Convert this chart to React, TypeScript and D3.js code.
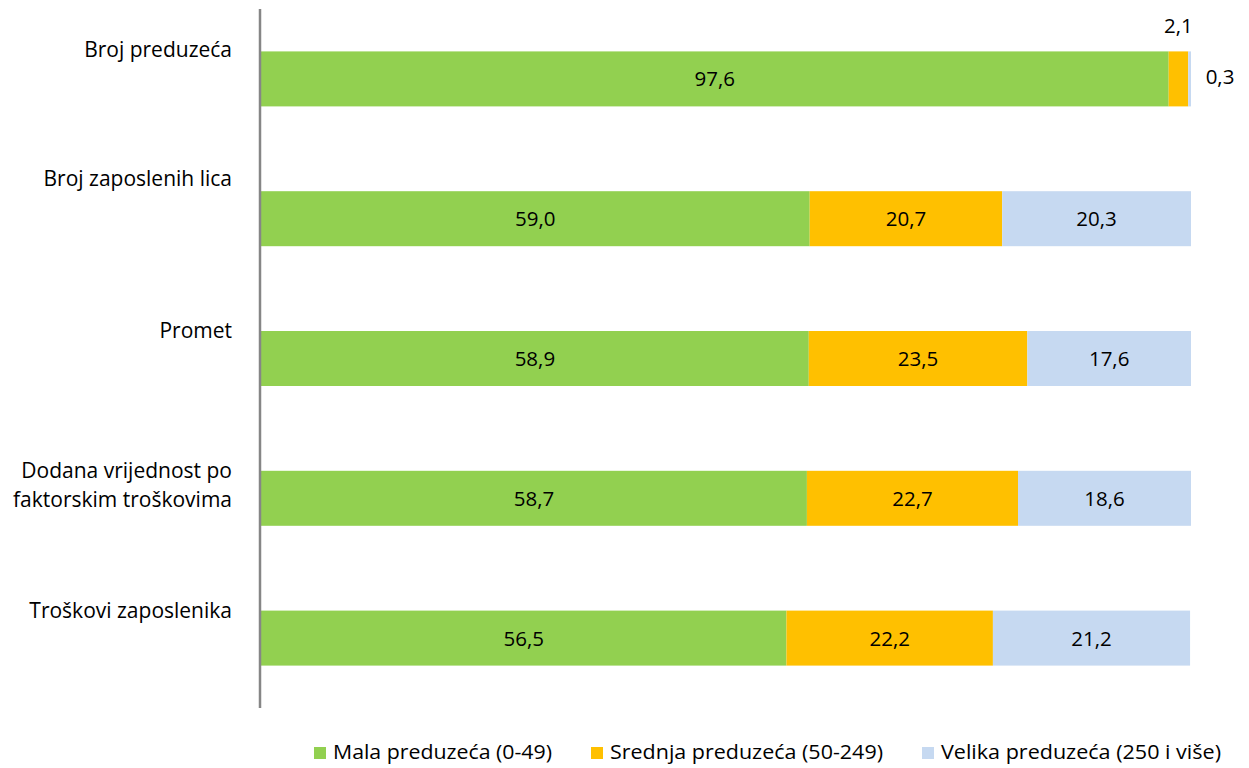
import React from "react";
import * as d3 from "d3";

const categories = [
  "Broj preduzeća",
  "Broj zaposlenih lica",
  "Promet",
  "Dodana vrijednost po faktorskim troškovima",
  "Troškovi zaposlenika",
];
const categoryLines = [
  ["Broj preduzeća"],
  ["Broj zaposlenih lica"],
  ["Promet"],
  ["Dodana vrijednost po", "faktorskim troškovima"],
  ["Troškovi zaposlenika"],
];
const seriesNames = ["Mala preduzeća (0-49)", "Srednja preduzeća (50-249)", "Velika preduzeća (250 i više)"];
const malaValues = [97.6, 59.0, 58.9, 58.7, 56.5];
const srednjaValues = [2.1, 20.7, 23.5, 22.7, 22.2];
const velikaValues = [0.3, 20.3, 17.6, 18.6, 21.2];

const colors = ["#92D050", "#FFC000", "#C6D9F1"];
// layout: label baseline offsets relative to band center
const labelDy = [-22, -33, -21, -20, -20];
const legendX = [314, 591, 922];
const legendTextW = [219, 273, 280];

const W = 1249;
const H = 768;
const FONT = "'Open Sans', Lato, sans-serif";

export default function App() {
  const keys = ["mala", "srednja", "velika"];
  const rows = categories.map((c, i) => ({
    cat: c,
    mala: malaValues[i],
    srednja: srednjaValues[i],
    velika: velikaValues[i],
  }));
  const stacked = d3.stack<any>().keys(keys)(rows);

  const x = d3.scaleLinear().domain([0, 100]).range([261, 1191]);
  const y = d3
    .scaleBand<string>()
    .domain(categories)
    .range([9, 708])
    .paddingInner(0.6066)
    .paddingOuter(0.3033);
  const bw = y.bandwidth();
  const fmt = (v: number) => v.toFixed(1).replace(".", ",");

  return (
    <svg
      width={W}
      height={H}
      style={{ position: "absolute", left: 0, top: 0, background: "#fff" }}
      fontFamily={FONT}
    >
      {stacked.map((s, si) => (
        <g key={si} fill={colors[si]}>
          {s.map((d, i) => (
            <rect
              key={i}
              x={x(d[0])}
              y={y(categories[i])!}
              width={x(d[1]) - x(d[0])}
              height={bw}
            />
          ))}
        </g>
      ))}
      {stacked.map((s, si) =>
        s.map((d, i) => {
          const v = d[1] - d[0];
          const w = x(d[1]) - x(d[0]);
          const top = y(categories[i])!;
          const cy = top + bw / 2;
          let tx = (x(d[0]) + x(d[1])) / 2;
          let ty = cy + 7.5;
          if (w < 40) {
            if (si === 1) {
              ty = top - 18;
            } else {
              tx = x(d[1]) + 29;
              ty = cy + 5;
            }
          }
          return (
            <text
              key={`${si}-${i}`}
              x={tx}
              y={ty}
              textAnchor="middle"
              fontSize={20.5}
              fill="#000"
            >
              {fmt(v)}
            </text>
          );
        })
      )}
      <line x1={260} x2={260} y1={9} y2={708} stroke="#868686" strokeWidth={2.5} />
      {categories.map((c, i) => {
        const cy = y(c)! + bw / 2;
        return (
          <text key={c} x={232} y={cy + labelDy[i]} textAnchor="end" fontSize={21} fill="#000">
            {categoryLines[i].map((l, li) => (
              <tspan key={li} x={232} dy={li === 0 ? 0 : 29}>
                {l}
              </tspan>
            ))}
          </text>
        );
      })}
      {seriesNames.map((n, i) => (
        <g key={n}>
          <rect x={legendX[i]} y={747} width={12} height={12} fill={colors[i]} />
          <text
            x={legendX[i] + 19}
            y={759}
            fontSize={20}
            textLength={legendTextW[i]}
            lengthAdjust="spacingAndGlyphs"
            fill="#000"
          >
            {n}
          </text>
        </g>
      ))}
    </svg>
  );
}
